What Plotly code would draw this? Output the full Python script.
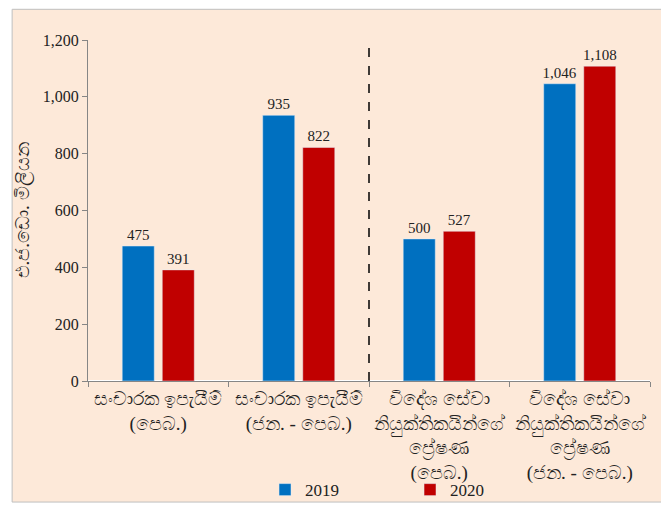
import plotly.graph_objects as go

# ── Data ──────────────────────────────────────────────────────────────────────
categories = [
    "සංචාරක ඉපැයීම්<br>(පෙබ.)",
    "සංචාරක ඉපැයීම්<br>(ජන. - පෙබ.)",
    "විදේශ සේවා<br>නියුක්තිකයින්ගේ<br>ප්‍රේෂණ<br>(පෙබ.)",
    "විදේශ සේවා<br>නියුක්තිකයින්ගේ<br>ප්‍රේෂණ<br>(ජන. - පෙබ.)",
]
vals_2019 = [475, 935, 500, 1046]
vals_2020 = [391, 822, 527, 1108]
y_title = "එ.ජ.ඩො. මිලියන"

FONT = "Liberation Serif, DejaVu Serif, serif"
BG = "#FDE9D9"

fig = go.Figure()
fig.add_trace(go.Bar(x=categories, y=vals_2019, name="2019", marker_color="#0070C0",
                     text=[f"{v:,}" for v in vals_2019], textposition="outside",
                     cliponaxis=False, textfont=dict(size=15, color="#222", family=FONT)))
fig.add_trace(go.Bar(x=categories, y=vals_2020, name="2020", marker_color="#C00000",
                     text=[f"{v:,}" for v in vals_2020], textposition="outside",
                     cliponaxis=False, textfont=dict(size=15, color="#222", family=FONT)))

# background panel with thin border
fig.add_shape(type="rect", xref="paper", yref="paper", x0=-0.135, x1=1.027, y0=-0.355, y1=1.09,
              fillcolor=BG, line=dict(color="#BFBFBF", width=1), layer="below")
# dashed divider between the two groups
fig.add_shape(type="line", xref="x", yref="paper", x0=1.5, x1=1.5, y0=0, y1=1,
              line=dict(color="black", width=1.5, dash="dash"))

# page body has an 8px margin, so the figure is a bit smaller than the window
fig.update_layout(
    width=661, height=498,
    margin=dict(l=80, r=19, t=32, b=125, autoexpand=False),
    paper_bgcolor="white", plot_bgcolor="rgba(0,0,0,0)",
    font=dict(family=FONT, size=15, color="#222"),
    barmode="group", bargap=0.43, bargroupgap=0.2,
    uniformtext=dict(mode="show", minsize=15),
    legend=dict(orientation="h", x=0.315, xanchor="left", xref="paper",
                y=0.032, yanchor="middle", yref="container",
                font=dict(size=17, family=FONT), bgcolor="rgba(0,0,0,0)",
                entrywidth=100, entrywidthmode="pixels"),
    showlegend=True,
)
fig.update_yaxes(range=[0, 1200], dtick=200, tickformat=",", showgrid=False, automargin=False,
                 showline=True, linecolor="#868686", ticks="outside", ticklen=5,
                 tickcolor="#868686", tickfont=dict(size=16),
                 title=dict(text=y_title, font=dict(size=19), standoff=8))
fig.update_xaxes(showline=True, linecolor="#868686", ticks="outside", tickson="boundaries",
                 automargin=False, ticklen=5, tickcolor="#868686", tickangle=0,
                 tickfont=dict(size=19))

fig.write_html("out.html")
